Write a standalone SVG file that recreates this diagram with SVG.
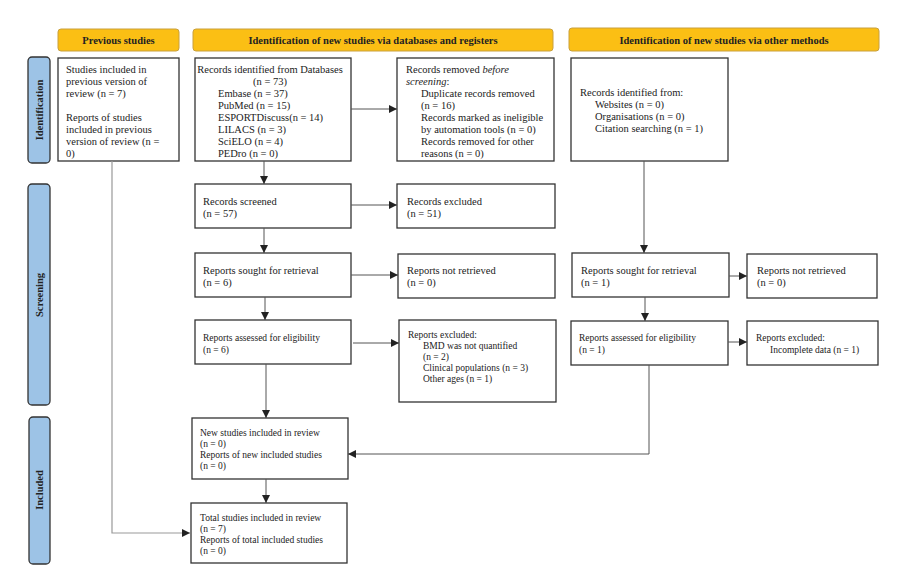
<svg xmlns="http://www.w3.org/2000/svg" width="901" height="571" viewBox="0 0 901 571">
<defs>
<style>
.hdr{fill:#FBBF14;stroke:#C9A03C;stroke-width:1}
.side{fill:#9DC3E6;stroke:#333;stroke-width:1.3}
.box{fill:#fff;stroke:#333;stroke-width:1.3}
text{font-family:"Liberation Serif","Times New Roman",serif;fill:#222}
.h{font-size:10.5px;font-weight:bold;text-anchor:middle}
.s{font-size:10.5px;font-weight:bold;text-anchor:middle}
.t{font-size:10.5px}
.u{font-size:9.5px}
.c{fill:none;stroke:#555;stroke-width:1}
.c2{fill:none;stroke:#999;stroke-width:1.2}
</style>
<marker id="ar" viewBox="0 0 10 10" refX="10" refY="5" markerWidth="8" markerHeight="8" markerUnits="userSpaceOnUse" orient="auto">
<path d="M0,0 L10,5 L0,10 z" fill="#222"/>
</marker>
</defs>
<rect width="901" height="571" fill="#fff"/>

<g id="hdr-previous"><rect class="hdr" x="58" y="29" width="121" height="22" rx="3"/><text class="h" x="118.5" y="43.5">Previous studies</text></g>
<g id="hdr-databases"><rect class="hdr" x="193" y="29" width="360" height="22" rx="3"/><text class="h" x="373" y="43.5">Identification of new studies via databases and registers</text></g>
<g id="hdr-other"><rect class="hdr" x="569" y="28" width="310" height="23" rx="3"/><text class="h" x="724" y="43.5">Identification of new studies via other methods</text></g>

<g id="side-identification"><rect class="side" x="28" y="57" width="22" height="106" rx="4"/><text class="s" transform="translate(43,110) rotate(-90)">Identification</text></g>
<g id="side-screening"><rect class="side" x="28" y="184" width="22" height="221" rx="4"/><text class="s" transform="translate(43,295) rotate(-90)">Screening</text></g>
<g id="side-included"><rect class="side" x="29" y="417" width="21" height="147" rx="4"/><text class="s" transform="translate(43,490) rotate(-90)">Included</text></g>

<g id="previous-studies"><rect class="box" x="58" y="58" width="121" height="103"/>
<text class="t" x="66"><tspan x="66" y="72.5">Studies included in</tspan><tspan x="66" y="84.5">previous version of</tspan><tspan x="66" y="96.5">review (n = 7)</tspan><tspan x="66" y="120.5">Reports of studies</tspan><tspan x="66" y="132.5">included in previous</tspan><tspan x="66" y="144.5">version of review (n =</tspan><tspan x="66" y="156.5">0)</tspan></text></g>

<g id="records-identified"><rect class="box" x="195" y="58" width="156" height="103"/>
<text class="t"><tspan x="270" y="72.5" text-anchor="middle">Records identified from Databases</tspan><tspan x="270" y="84.5" text-anchor="middle">(n = 73)</tspan><tspan x="218" y="96.5">Embase (n = 37)</tspan><tspan x="218" y="108.5">PubMed (n = 15)</tspan><tspan x="218" y="120.5">ESPORTDiscuss(n = 14)</tspan><tspan x="218" y="132.5">LILACS (n = 3)</tspan><tspan x="218" y="144.5">SciELO (n = 4)</tspan><tspan x="218" y="156.5">PEDro (n = 0)</tspan></text></g>

<g id="records-removed"><rect class="box" x="397" y="58" width="157" height="103"/>
<text class="t"><tspan x="406" y="72.5">Records removed <tspan font-style="italic">before</tspan></tspan><tspan x="406" y="84.5"><tspan font-style="italic">screening</tspan>:</tspan><tspan x="421" y="96.5">Duplicate records removed</tspan><tspan x="421" y="108.5">(n = 16)</tspan><tspan x="421" y="120.5">Records marked as ineligible</tspan><tspan x="421" y="132.5">by automation tools (n = 0)</tspan><tspan x="421" y="144.5">Records removed for other</tspan><tspan x="421" y="156.5">reasons (n = 0)</tspan></text></g>

<g id="other-records"><rect class="box" x="571" y="58" width="157" height="103"/>
<text class="t"><tspan x="580" y="95.5">Records identified from:</tspan><tspan x="595" y="107.5">Websites (n = 0)</tspan><tspan x="595" y="119.5">Organisations (n = 0)</tspan><tspan x="595" y="131.5">Citation searching (n = 1)</tspan></text></g>

<g id="records-screened"><rect class="box" x="195" y="184" width="156" height="44"/>
<text class="t"><tspan x="203" y="204.5">Records screened</tspan><tspan x="203" y="217">(n = 57)</tspan></text></g>

<g id="records-excluded"><rect class="box" x="397" y="184" width="158" height="44"/>
<text class="t"><tspan x="407" y="204.5">Records excluded</tspan><tspan x="407" y="216.5">(n = 51)</tspan></text></g>

<g id="reports-sought"><rect class="box" x="195" y="253" width="156" height="44"/>
<text class="t"><tspan x="203" y="273.5">Reports sought for retrieval</tspan><tspan x="203" y="285.5">(n = 6)</tspan></text></g>

<g id="reports-not-retrieved"><rect class="box" x="398" y="254" width="157" height="44"/>
<text class="t"><tspan x="407" y="273.5">Reports not retrieved</tspan><tspan x="407" y="285.5">(n = 0)</tspan></text></g>

<g id="reports-assessed"><rect class="box" x="195" y="320" width="156" height="44"/>
<text class="u"><tspan x="203" y="341">Reports assessed for eligibility</tspan><tspan x="203" y="352.5">(n = 6)</tspan></text></g>

<g id="reports-excluded"><rect class="box" x="399" y="320" width="157" height="82"/>
<text class="u"><tspan x="408" y="338">Reports excluded:</tspan><tspan x="423" y="349">BMD was not quantified</tspan><tspan x="423" y="360">(n = 2)</tspan><tspan x="423" y="371">Clinical populations (n = 3)</tspan><tspan x="423" y="382">Other ages (n = 1)</tspan></text></g>

<g id="other-sought"><rect class="box" x="572" y="253" width="157" height="44"/>
<text class="t"><tspan x="581" y="273.5">Reports sought for retrieval</tspan><tspan x="581" y="285.5">(n = 1)</tspan></text></g>

<g id="other-not-retrieved"><rect class="box" x="747" y="254" width="130" height="44"/>
<text class="t"><tspan x="757" y="273.5">Reports not retrieved</tspan><tspan x="757" y="285.5">(n = 0)</tspan></text></g>

<g id="other-assessed"><rect class="box" x="571" y="321" width="157" height="44"/>
<text class="u"><tspan x="579" y="341">Reports assessed for eligibility</tspan><tspan x="579" y="352.5">(n = 1)</tspan></text></g>

<g id="other-excluded"><rect class="box" x="747" y="321" width="131" height="44"/>
<text class="u"><tspan x="756" y="341">Reports excluded:</tspan><tspan x="770" y="352.5">Incomplete data (n = 1)</tspan></text></g>

<g id="new-studies"><rect class="box" x="192" y="418" width="156" height="61"/>
<text class="u"><tspan x="200" y="436">New studies included in review</tspan><tspan x="200" y="447">(n = 0)</tspan><tspan x="200" y="458">Reports of new included studies</tspan><tspan x="200" y="469">(n = 0)</tspan></text></g>

<g id="total-studies"><rect class="box" x="191" y="503" width="156" height="60"/>
<text class="u"><tspan x="200" y="521">Total studies included in review</tspan><tspan x="200" y="532">(n = 7)</tspan><tspan x="200" y="543">Reports of total included studies</tspan><tspan x="200" y="554">(n = 0)</tspan></text></g>

<g id="connectors">
<path class="c2" d="M112,161 V533 H190" marker-end="url(#ar)"/>
<path class="c" d="M351,109 H397" marker-end="url(#ar)"/>
<path class="c" d="M264,161 V184" marker-end="url(#ar)"/>
<path class="c" d="M351,205 H397" marker-end="url(#ar)"/>
<path class="c" d="M264,228 V253" marker-end="url(#ar)"/>
<path class="c" d="M351,275 H398" marker-end="url(#ar)"/>
<path class="c" d="M265,297 V320" marker-end="url(#ar)"/>
<path class="c" d="M353,343 H399" marker-end="url(#ar)"/>
<path class="c" d="M266,364 V418" marker-end="url(#ar)"/>
<path class="c" d="M644,161 V253" marker-end="url(#ar)"/>
<path class="c" d="M729,276 H747" marker-end="url(#ar)"/>
<path class="c" d="M645,297 V321" marker-end="url(#ar)"/>
<path class="c" d="M728,342 H747" marker-end="url(#ar)"/>
<path class="c" d="M649,365 V454 H348" marker-end="url(#ar)"/>
<path class="c" d="M266,479 V503" marker-end="url(#ar)"/>
</g>
</svg>
